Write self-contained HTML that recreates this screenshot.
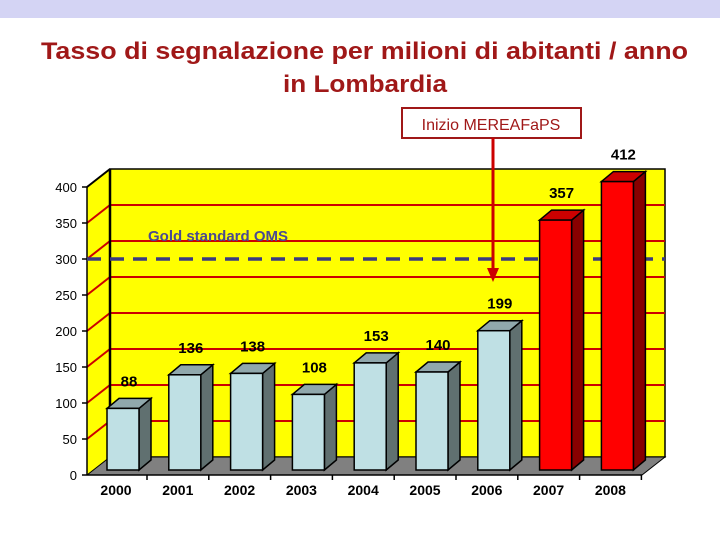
<!DOCTYPE html>
<html><head><meta charset="utf-8"><style>
body{margin:0;width:720px;height:540px;background:#fff;overflow:hidden;font-family:"Liberation Sans",sans-serif}
</style></head><body>
<svg width="720" height="540" xmlns="http://www.w3.org/2000/svg">
<rect x="0" y="0" width="720" height="18" fill="#d4d4f4"/>
<text x="41" y="59" font-size="24" font-weight="bold" fill="#a01818" textLength="647" lengthAdjust="spacingAndGlyphs">Tasso di segnalazione per milioni di abitanti / anno</text>
<text x="283" y="92" font-size="24" font-weight="bold" fill="#a01818" textLength="164" lengthAdjust="spacingAndGlyphs">in Lombardia</text>
<g id="plot"></g>
<rect x="402" y="108" width="179" height="30" fill="#fff" stroke="#a01818" stroke-width="2"/>
<text x="491" y="130" text-anchor="middle" font-size="16" fill="#a01818">Inizio MEREAFaPS</text>
<line x1="493" y1="138" x2="493" y2="270" stroke="#cc0000" stroke-width="3"/>
<polygon points="487,268 499,268 493,282" fill="#cc0000"/>
</svg>
<script>
const years=["2000","2001","2002","2003","2004","2005","2006","2007","2008"];
const values=[88,136,138,108,153,140,199,357,412];
const ticks=[0,50,100,150,200,250,300,350,400];
const goldStandard=300;
const NS="http://www.w3.org/2000/svg";
const g=document.getElementById('plot');
function el(t,a){const e=document.createElementNS(NS,t);for(const k in a)e.setAttribute(k,a[k]);g.appendChild(e);return e;}
const X0=87,Y0=475,DX=23,DY=18,WR=665;
function yv(v){return Y0-v*0.72;}
function yb(v){return 470-v*0.70;}
let e;
e=el('polygon',{points:`${X0},${Y0} ${X0+DX},${Y0-DY} ${X0+DX},${yv(400)-DY} ${X0},${yv(400)}`,fill:'#ffff00'});

e=el('rect',{x:X0+DX,y:yv(400)-DY,width:WR-X0-DX,height:400*0.72,fill:'#ffff00',stroke:'#000','stroke-width':1.5});

ticks.forEach(t=>{
 if(t>0&&t<400){const l=el('polyline',{points:`${X0},${yv(t)} ${X0+DX},${yv(t)-DY} ${WR},${yv(t)-DY}`,fill:'none',stroke:'#cc0000','stroke-width':2});
 }
 const tx=el('text',{x:X0-10,y:yv(t)+5,'text-anchor':'end','font-size':13,fill:'#000'});tx.textContent=t;
 
 el('line',{x1:X0-5,y1:yv(t),x2:X0,y2:yv(t),stroke:'#000','stroke-width':1.5});
});
el('line',{x1:X0+DX,y1:yv(400)-DY,x2:X0+DX,y2:Y0-DY,stroke:'#000','stroke-width':2.5});
el('line',{x1:X0,y1:Y0,x2:X0,y2:yv(400),stroke:'#000','stroke-width':1.5});
el('line',{x1:X0,y1:yv(400),x2:X0+DX,y2:yv(400)-DY,stroke:'#000','stroke-width':2});
e=el('polygon',{points:`${X0},${Y0} ${X0+DX},${Y0-DY} ${WR},${Y0-DY} ${WR-DX},${Y0}`,fill:'#808080',stroke:'#000','stroke-width':1});

el('line',{x1:X0,y1:Y0,x2:WR-DX,y2:Y0,stroke:'#000','stroke-width':1.5});
const gl=el('line',{x1:X0,y1:yv(goldStandard),x2:WR,y2:yv(goldStandard),stroke:'#3a3a80','stroke-width':3.5,'stroke-dasharray':'14,9'});

e=el('text',{x:148,y:241,'font-size':15,'font-weight':'bold',fill:'#4a4a90'});e.textContent='Gold standard OMS';

const SP=61.8,BW=32,D1=12,D2=10;
years.forEach((yr,i)=>{
 const x=107+i*SP,v=values[i],top=yb(v),bot=470;
 const red=i>=7;
 const f=red?'#ff0000':'#bfe0e4',tc=red?'#cc0000':'#90a8ac',sc=red?'#880000':'#607070';
 const grp=document.createElementNS(NS,'g');g.appendChild(grp);
 
 const mk=(t,a)=>{const q=document.createElementNS(NS,t);for(const k in a)q.setAttribute(k,a[k]);grp.appendChild(q);};
 mk('polygon',{points:`${x+BW},${bot} ${x+BW+D1},${bot-D2} ${x+BW+D1},${top-D2} ${x+BW},${top}`,fill:sc,stroke:'#000','stroke-width':1.5});
 mk('polygon',{points:`${x},${top} ${x+D1},${top-D2} ${x+BW+D1},${top-D2} ${x+BW},${top}`,fill:tc,stroke:'#000','stroke-width':1.5});
 mk('rect',{x:x,y:top,width:BW,height:bot-top,fill:f,stroke:'#000','stroke-width':1.5});
 const vl=el('text',{x:x+22,y:top-22,'text-anchor':'middle','font-size':15,'font-weight':'bold',fill:'#000'});
 vl.textContent=v;
 
 const xl=el('text',{x:x+9,y:495,'text-anchor':'middle','font-size':14,'font-weight':'bold',fill:'#000'});
 xl.textContent=yr;
 
 el('line',{x1:x+40,y1:Y0,x2:x+40,y2:Y0+5,stroke:'#000','stroke-width':1.5});
});
</script>
</body></html>
